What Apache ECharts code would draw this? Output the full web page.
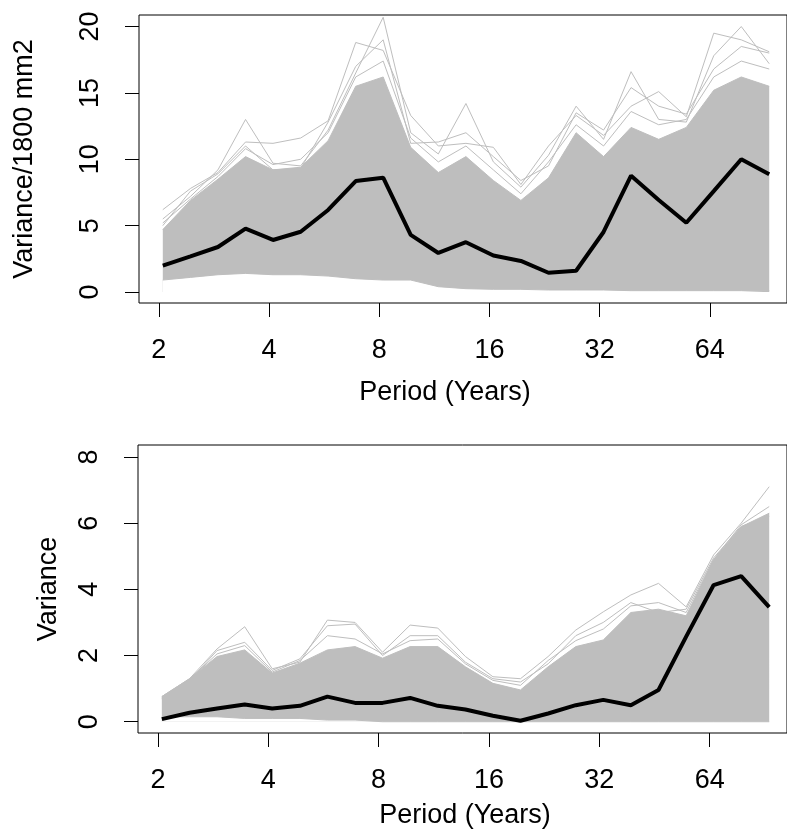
<!DOCTYPE html>
<html>
<head>
<meta charset="utf-8">
<script src="https://cdn.jsdelivr.net/npm/echarts@6/dist/echarts.min.js"></script>
<style>
    html, body { margin: 0; padding: 0; background: #fff; }
    #chart { width: 787px; height: 832px; }
</style>
</head>
<body>
<div id="chart"></div>
<script>
// periods (years) of the spectral estimates, both panels
var periods = [2.05, 2.44, 2.9, 3.45, 4.1, 4.88, 5.8, 6.9, 8.2, 9.75, 11.6, 13.8, 16.4, 19.5, 23.2, 27.6, 32.8, 39, 46.4, 55.2, 65.6, 78, 93];
var xTicks = [2, 4, 8, 16, 32, 64];

// top panel: Variance/1800 mm2
var topTicks = [0, 5, 10, 15, 20];
var topMean = [1.98, 2.68, 3.39, 4.77, 3.92, 4.54, 6.18, 8.36, 8.61, 4.3, 2.94, 3.75, 2.75, 2.34, 1.45, 1.6, 4.52, 8.76, 6.93, 5.22, 7.6, 10.0, 8.87];
var topLow = [0.9, 1.1, 1.3, 1.4, 1.3, 1.3, 1.2, 1.0, 0.9, 0.9, 0.4, 0.25, 0.2, 0.2, 0.15, 0.15, 0.15, 0.1, 0.1, 0.1, 0.1, 0.1, 0.1];
var topHigh = [4.7, 6.9, 8.5, 10.2, 9.2, 9.4, 11.4, 15.5, 16.2, 10.9, 9.0, 10.2, 8.4, 6.9, 8.6, 12.0, 10.2, 12.4, 11.5, 12.4, 15.2, 16.2, 15.5];
var topOut1 = [5.5, 7.2, 9.2, 13.0, 9.7, 9.5, 12.2, 16.5, 20.7, 12.0, 10.4, 14.2, 9.8, 7.9, 10.3, 14.0, 11.5, 16.6, 13.0, 12.8, 17.8, 20.0, 17.2];
var topOut2 = [6.2, 7.8, 9.0, 11.3, 11.2, 11.6, 12.9, 18.8, 18.2, 13.3, 11.0, 11.2, 10.9, 8.1, 11.0, 13.3, 11.8, 14.0, 15.1, 13.2, 19.5, 19.0, 18.1];
var topOut3 = [5.0, 7.6, 8.9, 11.0, 9.2, 9.3, 12.8, 17.0, 19.0, 11.2, 11.3, 12.0, 10.2, 8.4, 9.5, 13.5, 12.2, 15.4, 14.0, 13.4, 16.8, 18.5, 18.0];
var topOut4 = [5.2, 7.0, 8.7, 10.8, 9.6, 10.0, 12.0, 16.2, 17.4, 11.6, 9.8, 11.0, 9.2, 7.4, 9.8, 12.6, 11.0, 13.6, 12.6, 13.0, 16.2, 17.4, 16.8];

// bottom panel: Variance
var botTicks = [0, 2, 4, 6, 8];
var botMean = [0.08, 0.27, 0.4, 0.52, 0.4, 0.48, 0.76, 0.57, 0.57, 0.72, 0.48, 0.37, 0.18, 0.03, 0.25, 0.5, 0.66, 0.5, 0.96, 2.57, 4.13, 4.4, 3.46];
var botLow = [0.15, 0.15, 0.15, 0.1, 0.1, 0.1, 0.05, 0.05, 0, 0, 0, 0, 0, 0, 0, 0, 0, 0, 0, 0, 0, 0, 0];
var botHigh = [0.76, 1.3, 1.97, 2.17, 1.47, 1.77, 2.17, 2.27, 1.92, 2.27, 2.27, 1.66, 1.16, 0.96, 1.66, 2.27, 2.47, 3.3, 3.4, 3.2, 4.89, 5.89, 6.3];
var botOut1 = [0.76, 1.3, 2.2, 2.87, 1.6, 1.8, 3.07, 3.0, 2.1, 2.92, 2.83, 1.97, 1.36, 1.3, 1.97, 2.77, 3.32, 3.83, 4.18, 3.47, 5.04, 6.0, 7.1];
var botOut2 = [0.7, 1.25, 2.15, 2.4, 1.55, 1.9, 2.9, 2.95, 2.0, 2.6, 2.6, 1.8, 1.3, 1.2, 1.75, 2.6, 3.0, 3.6, 3.3, 3.4, 4.95, 5.9, 6.2];
var botOut3 = [0.72, 1.28, 2.05, 2.3, 1.5, 1.85, 2.6, 2.5, 2.05, 2.45, 2.5, 1.75, 1.25, 1.1, 1.85, 2.45, 2.8, 3.5, 3.6, 3.3, 4.9, 5.95, 6.5];

var GREY = '#bebebe';
var FONT = 'Liberation Sans';

function pairs(ys) {
    return ys.map(function (y, i) { return [periods[i], y]; });
}

// grey band: upper envelope filled down to 0, then lower envelope filled white
function bandSeries(idx, low, high) {
    return [{
        type: 'line', xAxisIndex: idx, yAxisIndex: idx,
        data: pairs(high), symbol: 'none', silent: true, z: 1,
        lineStyle: {color: GREY, width: 1},
        areaStyle: {color: GREY, opacity: 1, origin: 0}
    }, {
        type: 'line', xAxisIndex: idx, yAxisIndex: idx,
        data: pairs(low), symbol: 'none', silent: true, z: 1,
        lineStyle: {color: GREY, width: 1},
        areaStyle: {color: '#fff', opacity: 1, origin: 0}
    }];
}

function greyLine(idx, ys) {
    return {
        type: 'line', xAxisIndex: idx, yAxisIndex: idx, data: pairs(ys),
        symbol: 'none', silent: true, z: 2,
        lineStyle: {color: GREY, width: 1}
    };
}

function meanLine(idx, ys) {
    return {
        type: 'line', xAxisIndex: idx, yAxisIndex: idx, data: pairs(ys),
        symbol: 'none', silent: true, z: 5,
        lineStyle: {color: '#000', width: 4}
    };
}

function xAxisOf(idx, gap, pad) {
    return {
        type: 'log', logBase: 2, gridIndex: idx, min: 1.765, max: 104,
        name: 'Period (Years)', nameLocation: 'middle', nameGap: gap,
        nameTextStyle: {fontFamily: FONT, fontSize: 27, color: '#000', padding: pad},
        axisLine: {show: false, onZero: false},
        axisTick: {show: true, length: 14, customValues: xTicks, lineStyle: {color: '#000', width: 1}},
        axisLabel: {customValues: xTicks, margin: 34, fontFamily: FONT, fontSize: 27, color: '#000'},
        splitLine: {show: false},
        minorTick: {show: false}
    };
}

function yAxisOf(idx, min, max, ticks, name, gap) {
    return {
        type: 'value', gridIndex: idx, min: min, max: max,
        name: name, nameLocation: 'middle', nameGap: gap, nameRotate: 90,
        nameTextStyle: {fontFamily: FONT, fontSize: 27, color: '#000'},
        axisLine: {show: false},
        axisTick: {show: true, length: 14, customValues: ticks, lineStyle: {color: '#000', width: 1}},
        axisLabel: {customValues: ticks, rotate: 90, margin: 35, fontFamily: FONT, fontSize: 27, color: '#000'},
        splitLine: {show: false}
    };
}

var myChart = echarts.init(document.getElementById('chart'));
var option = {
    animation: false,
    backgroundColor: '#fff',
    grid: [
        {left: 139, top: 15, width: 650, height: 288, show: true, borderColor: '#000', borderWidth: 1, containLabel: false},
        {left: 138, top: 445, width: 651, height: 288, show: true, borderColor: '#000', borderWidth: 1, containLabel: false}
    ],
    xAxis: [xAxisOf(0, 76, [0, 36, 0, 0]), xAxisOf(1, 69, [0, 0, 0, 5])],
    yAxis: [
        yAxisOf(0, -0.83, 20.87, topTicks, 'Variance/1800 mm2', 101),
        yAxisOf(1, -0.34, 8.36, botTicks, 'Variance', 76)
    ],
    series: [].concat(
        bandSeries(0, topLow, topHigh),
        [greyLine(0, topOut1), greyLine(0, topOut2), greyLine(0, topOut3), greyLine(0, topOut4), meanLine(0, topMean)],
        bandSeries(1, botLow, botHigh),
        [greyLine(1, botOut1), greyLine(1, botOut2), greyLine(1, botOut3), meanLine(1, botMean)]
    )
};
myChart.setOption(option);
</script>
</body>
</html>
